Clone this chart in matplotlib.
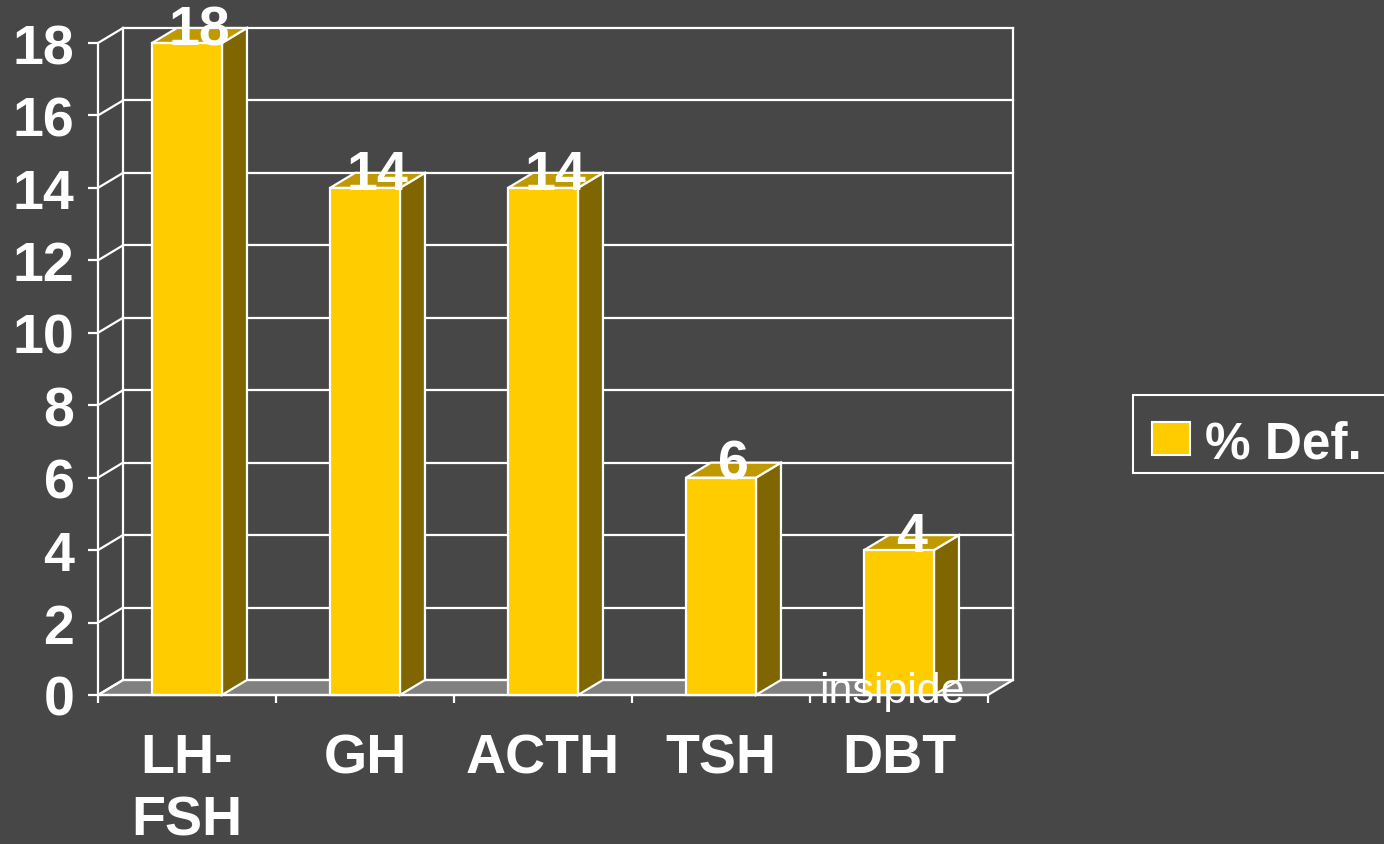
import matplotlib
matplotlib.use("Agg")
import matplotlib.pyplot as plt
from matplotlib.patches import Polygon, Rectangle

# data
categories = ["LH-\nFSH", "GH", "ACTH", "TSH", "DBT"]
values = [18, 14, 14, 6, 4]
series_name = "% Def."
yticks = list(range(0, 19, 2))

bg = "#474747"
front_col = "#FFCC00"
side_col = "#806600"
top_col = "#C09900"
floor_col = "#808080"

plt.rcParams["font.family"] = ["Liberation Sans", "DejaVu Sans"]

fig = plt.figure(figsize=(13.84, 8.45), dpi=100, facecolor=bg)
ax = fig.add_axes([98 / 1384, 149 / 845, 890 / 1384, 652 / 845])
ax.set_facecolor("none")
ax.set_xlim(-0.5, len(categories) - 0.5)
ax.set_ylim(0, 18)

# depth offset of the pseudo-3D walls (data units)
dx = 25 / 178
dy = 15 / 36.2
bw = 0.393
x0, x1 = -0.5, len(categories) - 0.5
lw = 1.6
fs = 40

# floor
ax.add_patch(Polygon([(x0, 0), (x1, 0), (x1 + dx, dy), (x0 + dx, dy)],
                     closed=True, facecolor=floor_col, edgecolor="white",
                     lw=lw, clip_on=False, zorder=1))

# back wall + left wall grid
for v in yticks:
    ax.plot([x0 + dx, x1 + dx], [v + dy, v + dy], color="white", lw=lw,
            clip_on=False, zorder=2)
    ax.plot([x0, x0 + dx], [v, v + dy], color="white", lw=lw,
            clip_on=False, zorder=2)
ax.plot([x0 + dx, x0 + dx], [dy, 18 + dy], color="white", lw=lw, clip_on=False, zorder=2)
ax.plot([x1 + dx, x1 + dx], [dy, 18 + dy], color="white", lw=lw, clip_on=False, zorder=2)

# bars
for i, v in enumerate(values):
    l, r = i - bw / 2, i + bw / 2
    ax.add_patch(Polygon([(r, 0), (r + dx, dy), (r + dx, v + dy), (r, v)],
                         closed=True, facecolor=side_col, edgecolor="white",
                         lw=lw, clip_on=False, zorder=3))
    ax.add_patch(Polygon([(l, v), (r, v), (r + dx, v + dy), (l + dx, v + dy)],
                         closed=True, facecolor=top_col, edgecolor="white",
                         lw=lw, clip_on=False, zorder=3))
    ax.add_patch(Polygon([(l, 0), (r, 0), (r, v), (l, v)],
                         closed=True, facecolor=front_col, edgecolor="white",
                         lw=lw, clip_on=False, zorder=4))
    ax.text(i + dx / 2, v - 0.03, str(v), ha="center", va="baseline", color="white",
            fontsize=fs, fontweight="bold", zorder=6, clip_on=False)

ax.text(len(categories) - 1 - 0.04, -0.2, "insipide", ha="center", va="baseline",
        color="white", fontsize=31, zorder=6, clip_on=False)

# axes styling
for s in ["top", "right"]:
    ax.spines[s].set_visible(False)
for s in ["left", "bottom"]:
    ax.spines[s].set_color("white")
    ax.spines[s].set_linewidth(lw)
    ax.spines[s].set_zorder(5)

ax.set_yticks(yticks)
ax.set_yticklabels([str(t) for t in yticks])
ax.tick_params(axis="y", colors="white", length=7, width=lw, pad=10,
               labelsize=fs)
for t in ax.get_yticklabels():
    t.set_fontweight("bold")

ax.set_xticks(range(len(categories)))
ax.set_xticklabels(categories, linespacing=1.25)
ax.set_xticks([x0 + k for k in range(len(categories) + 1)], minor=True)
ax.tick_params(axis="x", which="major", length=0, pad=27, colors="white",
               labelsize=fs)
ax.tick_params(axis="x", which="minor", length=6, width=lw, color="white")
for t in ax.get_xticklabels():
    t.set_fontweight("bold")
    t.set_verticalalignment("top")

# legend box (drawn in figure pixels)
W, H = 1384, 845
fig.add_artist(Rectangle((1133 / W, (H - 474) / H), 260 / W, 78 / H,
                         transform=fig.transFigure, facecolor=bg,
                         edgecolor="white", lw=1.5, clip_on=False))
fig.add_artist(Rectangle((1152 / W, (H - 456) / H), 38 / W, 33 / H,
                         transform=fig.transFigure, facecolor=front_col,
                         edgecolor="white", lw=1.5))
fig.text(1205 / W, (H - 440) / H, series_name, ha="left", va="center_baseline",
         color="white", fontsize=37, fontweight="bold")

fig.savefig("out.png", dpi=100, facecolor=bg)
